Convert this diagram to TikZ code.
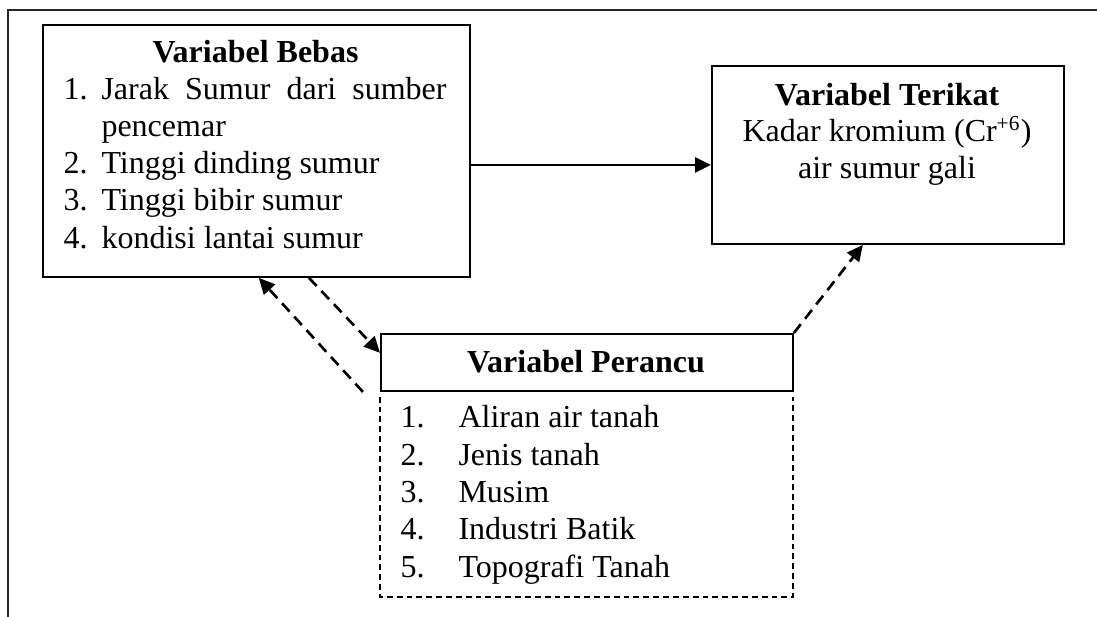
\documentclass[tikz,border=0pt]{standalone}
\usepackage{fontspec}
\setmainfont{Liberation Serif}
\usetikzlibrary{arrows.meta}
\begin{document}
\begin{tikzpicture}[x=0.375pt,y=-0.375pt,
  frame/.style={line width=0.7pt, draw=black!85},
  box/.style={draw, line width=0.7pt, inner sep=0pt, anchor=north west},
  plain/.style={inner sep=0pt, anchor=north west},
  txt/.style={inner sep=0pt, anchor=base west, font=\fontsize{12}{14}\selectfont},
  ttl/.style={inner sep=0pt, anchor=base, font=\fontsize{12}{14}\selectfont\bfseries},
  ctr/.style={inner sep=0pt, anchor=base, font=\fontsize{12}{14}\selectfont},
  solidarrow/.style={line width=1pt, -{Triangle[length=6pt,width=5.6pt]}},
  dasharrow/.style={line width=1pt, dash pattern=on 4.2pt off 2.6pt, -{Triangle[length=6pt,width=5.6pt]}},
  listdash/.style={line width=0.45pt, dash pattern=on 2.2pt off 1.5pt}
]
\useasboundingbox (0,0) rectangle (1097,617);
% outer frame (top and left only)
\coordinate (ftl) at (8,10);
\coordinate (ftr) at (1097,10);
\coordinate (fbl) at (8,617);
\draw[frame] (ftr) -- (ftl) -- (fbl);

% Variabel Bebas
\node[box, minimum width=160.1pt, minimum height=94.5pt] (bebas) at (42,24) {};
\node[ttl] (bebasT) at (255.5,63) {Variabel Bebas};
\node[txt] (b1n) at (63,100) {1.};
\node[txt] (b1) at (101,100) {\makebox[129.4pt][s]{Jarak Sumur dari sumber}};
\node[txt] (b1b) at (101,137) {pencemar};
\node[txt] (b2n) at (63,174) {2.};
\node[txt] (b2) at (101,174) {Tinggi dinding sumur};
\node[txt] (b3n) at (63,211) {3.};
\node[txt] (b3) at (101,211) {Tinggi bibir sumur};
\node[txt] (b4n) at (63,248) {4.};
\node[txt] (b4) at (101,248) {kondisi lantai sumur};

% Variabel Terikat
\node[box, minimum width=132pt, minimum height=66.75pt] (terikat) at (711,65) {};
\node[ttl] (terT) at (887,106) {Variabel Terikat};
\node[ctr] (ter1) at (887,142) {Kadar kromium (Cr\textsuperscript{+6})};
\node[ctr] (ter2) at (887,179) {air sumur gali};

% Variabel Perancu
\node[box, minimum width=154.5pt, minimum height=21.4pt] (perH) at (380,333) {};
\node[ttl] (perT) at (586,373) {Variabel Perancu};
\node[plain, minimum width=154.5pt, minimum height=77.25pt] (perL) at (380,390) {};
\draw[listdash] ([yshift=-2.5pt]perL.north west) -- (perL.south west) -- (perL.south east) -- ([yshift=-2.5pt]perL.north east);
\node[txt] (p1n) at (400,428) {1.};
\node[txt] (p1) at (458,428) {Aliran air tanah};
\node[txt] (p2n) at (400,465) {2.};
\node[txt] (p2) at (458,465) {Jenis tanah};
\node[txt] (p3n) at (400,502) {3.};
\node[txt] (p3) at (458,502) {Musim};
\node[txt] (p4n) at (400,539) {4.};
\node[txt] (p4) at (458,539) {Industri Batik};
\node[txt] (p5n) at (400,577) {5.};
\node[txt] (p5) at (458,577) {Topografi Tanah};

% connectors
\draw[solidarrow] ([yshift=-5.25pt]bebas.east) -- ([yshift=-5.25pt]bebas.east -| terikat.west);
\draw[dasharrow] ([xshift=-6.4pt]perH.south west) -- ([xshift=0.9pt]bebas.south);
\draw[dasharrow] ([xshift=19.7pt]bebas.south) -- ([yshift=3.6pt]perH.west);
\draw[dasharrow] (perH.north east) -- ([xshift=-9.4pt]terikat.south);
\end{tikzpicture}
\end{document}
